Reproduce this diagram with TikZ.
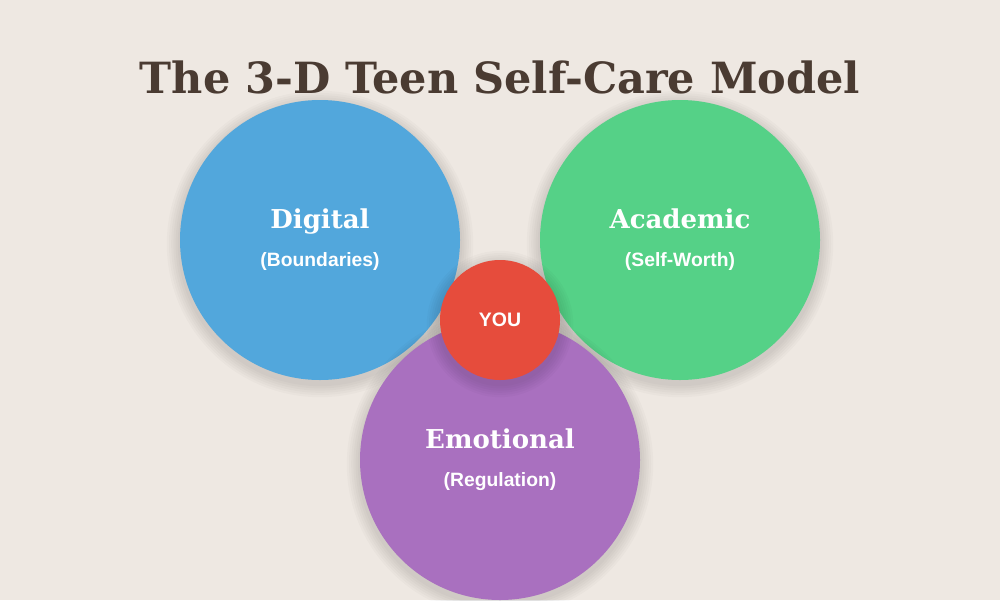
\documentclass[tikz,border=0pt]{standalone}
\usepackage{fontspec}
\setmainfont{DejaVu Serif}
\setsansfont{Liberation Sans}
\definecolor{bg}{HTML}{EEE8E2}
\definecolor{titlec}{HTML}{4A3B32}
\definecolor{cblue}{HTML}{52A7DC}
\definecolor{cgreen}{HTML}{55D187}
\definecolor{cpurple}{HTML}{A970BF}
\definecolor{cred}{HTML}{E64C3C}
\tikzset{
  bigcirc/.style={circle, minimum size=280pt, inner sep=0pt, draw=none},
  head/.style={text=white, font=\fontsize{26}{30}\selectfont\bfseries\rmfamily},
  sub/.style={text=white, font=\fontsize{19.3}{22}\selectfont\bfseries\sffamily},
  softshadow/.style={fill=black, fill opacity=0.018},
}
\newcommand{\shadowat}[2]{%
  \foreach \k in {1,...,6}{\fill[softshadow] (#1) ++(0,4) circle ({#2+2.2*\k});}}
\begin{document}
\begin{tikzpicture}[x=1pt,y=-1pt]
\fill[bg] (0,0) rectangle (1000,600);
\useasboundingbox (0,0) rectangle (1000,600);
\node[titlec, font=\fontsize{43}{48}\selectfont\bfseries\rmfamily, anchor=base] (title) at (500,93) {The 3-D Teen Self-Care Model};
\shadowat{320,240}{140}
\node[bigcirc, fill=cblue] (digital) at (320,240) {};
\shadowat{680,240}{140}
\node[bigcirc, fill=cgreen] (academic) at (680,240) {};
\shadowat{500,460}{140}
\node[bigcirc, fill=cpurple] (emotional) at (500,460) {};
\node[head, anchor=base] (dh) at (320,228) {Digital};
\node[sub, anchor=base] (ds) at (320,266) {(Boundaries)};
\node[head, anchor=base] (ah) at (680,228) {Academic};
\node[sub, anchor=base] (as) at (680,266) {(Self-Worth)};
\node[head, anchor=base] (eh) at (500,448) {Emotional};
\node[sub, anchor=base] (es) at (500,486) {(Regulation)};
\shadowat{500,320}{60}
\node[circle, minimum size=120pt, inner sep=0pt, fill=cred,
  text=white, font=\fontsize{19.5}{22}\selectfont\bfseries\sffamily] (you) at (500,320) {YOU};
\end{tikzpicture}
\end{document}
